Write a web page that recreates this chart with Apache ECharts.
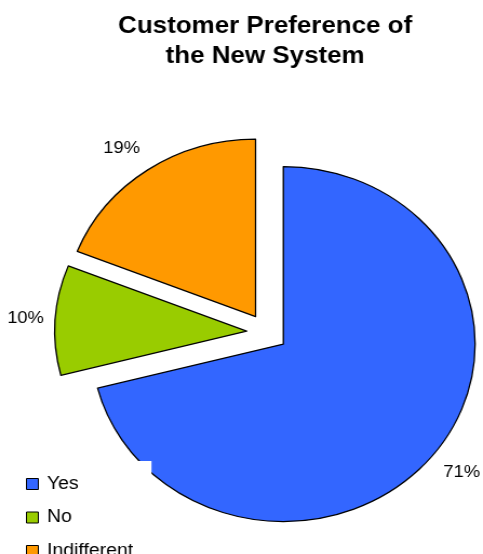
<!DOCTYPE html>
<html>
<head>
<meta charset="utf-8">
<script src="https://cdn.jsdelivr.net/npm/echarts@6/dist/echarts.min.js"></script>
<style>
  html, body { margin: 0; padding: 0; background: #fff; overflow: hidden; }
  /* the chart is laid out narrower and widened horizontally, so the pie becomes an ellipse */
  #chart { width: 447px; height: 554px; transform: scaleX(1.0805); transform-origin: 0 0; }
</style>
</head>
<body>
<div id="chart"></div>
<script>
const titleText = 'Customer Preference of\nthe New System';
const categories = ['Yes', 'No', 'Indifferent'];
const shares = [71, 10, 19];
const sliceColors = ['#3366FF', '#99CC00', '#FF9900'];

// per-slice placement of the percentage labels (labelLine is hidden, only its lengths are used)
const labelPlacement = {
  'Yes': { length: 31.5, length2: -22 },
  'No': { length: 31.5, length2: -26 },
  'Indifferent': { length: 26, length2: -12.5 }
};

const chart = echarts.init(document.getElementById('chart'), null, { renderer: 'canvas' });

const font = 'Arial, "Liberation Sans", sans-serif';

chart.setOption({
  animation: false,
  color: sliceColors,
  title: {
    text: titleText,
    left: 245.4,
    top: 11.5,
    padding: 0,
    textAlign: 'center',
    textStyle: {
      fontFamily: font,
      fontWeight: 'bold',
      fontSize: 24,
      lineHeight: 30,
      color: '#000'
    }
  },
  legend: {
    orient: 'vertical',
    left: 20,
    top: 461,
    height: 150,
    padding: [14, 17, 0, 4],
    backgroundColor: '#fff',
    itemWidth: 11,
    itemHeight: 11,
    itemGap: 15.5,
    icon: 'rect',
    itemStyle: { borderColor: '#000', borderWidth: 1 },
    textStyle: { fontFamily: font, fontSize: 18, color: '#000', lineHeight: 12, padding: [0, 0, 0, 3] },
    selectedMode: false,
    data: categories
  },
  series: [{
    type: 'pie',
    center: [247.2, 332.4],
    radius: 177.5,
    startAngle: 90,
    clockwise: true,
    selectedMode: 'multiple',
    selectedOffset: 19,
    avoidLabelOverlap: false,
    itemStyle: { borderColor: '#000', borderWidth: 1.3 },
    select: { itemStyle: { borderColor: '#000', borderWidth: 1.3 } },
    emphasis: { disabled: true },
    label: {
      show: true,
      position: 'outside',
      alignTo: 'none',
      formatter: '{c}%',
      fontFamily: font,
      fontSize: 17,
      color: '#000'
    },
    labelLine: { show: false, length: 31.5, length2: -22 },
    data: categories.map((name, i) => ({
      name: name,
      value: shares[i],
      selected: true,
      labelLine: Object.assign({ show: false }, labelPlacement[name])
    }))
  }]
});
</script>
</body>
</html>
